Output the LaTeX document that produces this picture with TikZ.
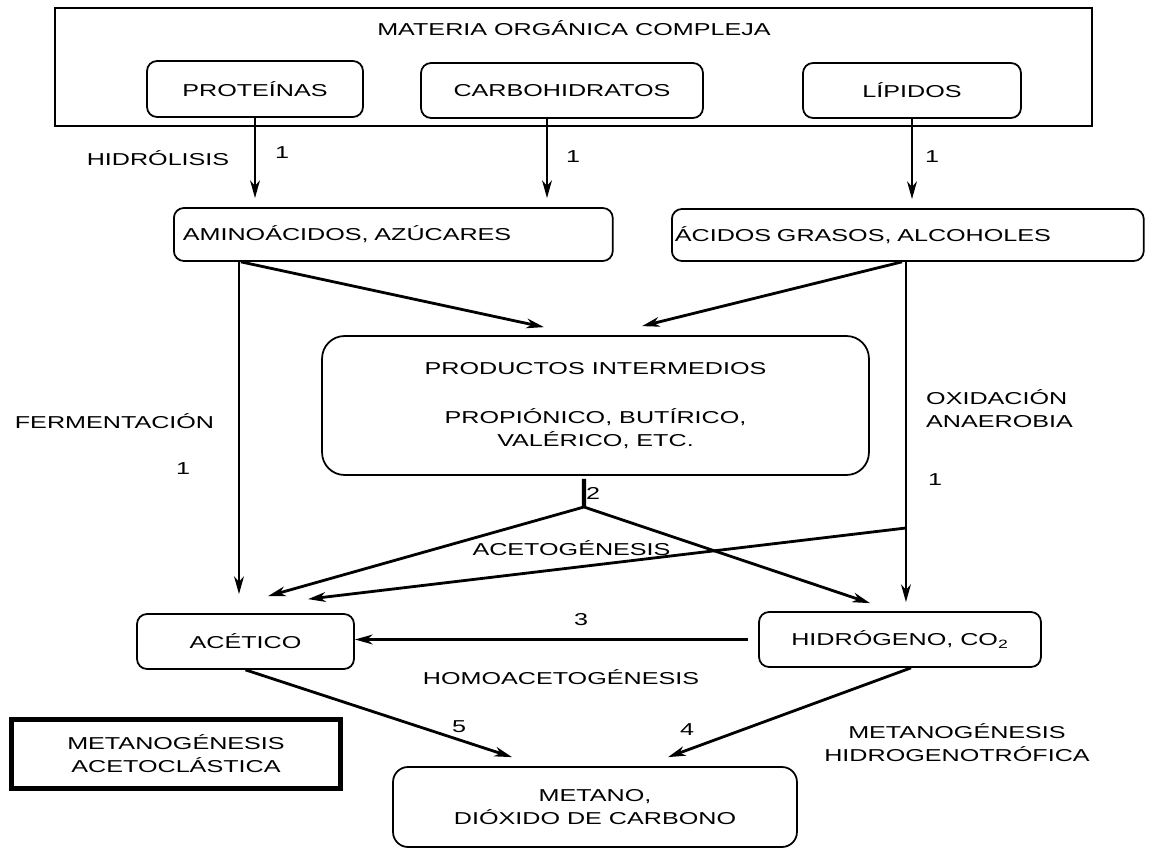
\documentclass[tikz,border=0pt]{standalone}
\usepackage{fontspec}
\setmainfont{Liberation Sans}[FakeStretch=1.46]
\usetikzlibrary{arrows.meta}

\begin{document}
\begin{tikzpicture}[x=0.02cm,y=-0.02cm,
  font=\fontsize{9.8}{13}\selectfont,
  caja/.style={draw,line width=1pt,rounded corners=0.2cm,inner sep=0pt,align=center},
  flecha/.style={line width=1.6pt,-{Stealth[length=10pt,width=5.5pt,inset=3pt]}}]
\useasboundingbox (0,0) rectangle (1150,848);

\node[draw,line width=1pt,minimum width=20.74cm,minimum height=2.36cm] (MOC) at (573.5,67) {};
\node (tMOC) at (574,28) {MATERIA ORGÁNICA COMPLEJA};
\node[caja,minimum width=4.32cm,minimum height=1.12cm] (PROT) at (255,89) {PROTEÍNAS};
\node[caja,minimum width=5.64cm,minimum height=1.1cm] (CARB) at (562,90.5) {CARBOHIDRATOS};
\node[caja,minimum width=4.36cm,minimum height=1.1cm] (LIP) at (912,90.5) {LÍPIDOS};
\node[caja,anchor=west,text width=8.42cm,inner xsep=0.18cm,minimum height=1.06cm,align=left] (AMI) at (173,234.5) {AMINOÁCIDOS, AZÚCARES};
\node[caja,anchor=west,text width=9.32cm,inner xsep=0.06cm,minimum height=1.04cm,align=left] (ACG) at (671,235) {ÁCIDOS GRASOS, ALCOHOLES};
\node[caja,rounded corners=0.45cm,minimum width=10.94cm,minimum height=2.78cm] (PROD) at (595.5,405.5) {PRODUCTOS INTERMEDIOS\\[14.8pt]PROPIÓNICO, BUTÍRICO,\\VALÉRICO, ETC.};
\node[caja,minimum width=4.34cm,minimum height=1.1cm] (ACE) at (245.5,641.5) {ACÉTICO};
\node[caja,minimum width=5.64cm,minimum height=1.1cm] (HID) at (900,639.5) {HIDRÓGENO, CO\textsubscript{2}};
\node[caja,rounded corners=0.3cm,minimum width=8.08cm,minimum height=1.6cm] (MET) at (595,807) {METANO,\\DIÓXIDO DE CARBONO};
\node[draw,line width=2.8pt,minimum width=6.58cm,minimum height=1.38cm,align=center,inner sep=0pt] (MAC) at (176,754) {METANOGÉNESIS\\ACETOCLÁSTICA};

\node (tHIDR) at (158,158) {HIDRÓLISIS};
\node (n1) at (282,153) {1};
\node (n2) at (573,157) {1};
\node (n3) at (932,157) {1};
\node (tFER) at (114.5,421) {FERMENTACIÓN};
\node (n4) at (183,469) {1};
\node[anchor=west,align=left] (tOXI) at (920,409) {OXIDACIÓN\\ANAEROBIA};
\node (n5) at (935,480) {1};
\node (n6) at (593,493) {2};
\node (tACE) at (571.5,548) {ACETOGÉNESIS};
\node (n7) at (581,620) {3};
\node (tHOM) at (561,677) {HOMOACETOGÉNESIS};
\node (n8) at (459,727) {5};
\node (n9) at (687,730) {4};
\node[align=center] (tMHI) at (957,743) {METANOGÉNESIS\\HIDROGENOTRÓFICA};

\coordinate (CA) at ([xshift=-0.3cm]CARB.south);
\coordinate (FE) at ([xshift=1.32cm]AMI.south west);
\coordinate (OX) at ([xshift=4.7cm]ACG.south west);
\coordinate (J2) at (584,507);
\coordinate (JO) at (906,528);

\path[flecha] (PROT.south) edge[shorten >=0.18cm] (PROT.south |- AMI.north)
  (CA) edge[shorten >=0.18cm] (CA |- AMI.north)
  (LIP.south) edge[shorten >=0.18cm] (LIP.south |- ACG.north);
\path[flecha] (FE) edge[shorten >=0.38cm] (FE |- ACE.north)
  ([xshift=1.36cm]AMI.south west) edge ([xshift=-1.03cm,yshift=0.16cm]PROD.north)
  ([xshift=4.62cm]ACG.south west) edge ([xshift=0.93cm,yshift=0.18cm]PROD.north)
  (OX) edge[shorten >=0.18cm] (OX |- HID.north);
\draw[line width=2.4pt] ([xshift=-0.23cm,yshift=-0.06cm]PROD.south) -- (J2);
\path[flecha] (JO) edge ([xshift=1.25cm,yshift=0.28cm]ACE.north)
  (J2) edge ([xshift=0.45cm,yshift=0.34cm]ACE.north)
  (J2) edge ([xshift=-0.6cm,yshift=0.16cm]HID.north)
  (HID.west) edge[shorten <=0.2cm] (ACE.east |- HID.west)
  (ACE.south) edge ([xshift=-1.66cm,yshift=0.18cm]MET.north)
  ([xshift=0.22cm]HID.south) edge ([xshift=1.46cm,yshift=0.18cm]MET.north);
\end{tikzpicture}
\end{document}
